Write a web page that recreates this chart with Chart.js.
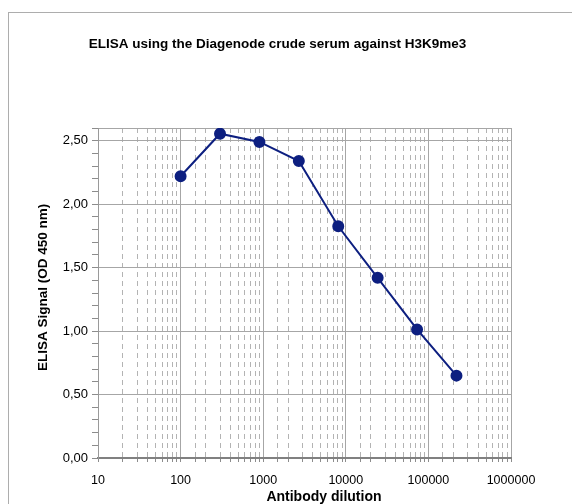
<!DOCTYPE html>
<html>
<head>
<meta charset="utf-8">
<script src="https://cdn.jsdelivr.net/npm/chart.js@4"></script>
<style>
  html, body { margin: 0; padding: 0; background: #fff; }
  #wrap { position: relative; width: 572px; height: 504px; overflow: hidden; }
  #frame { position: absolute; left: 8px; top: 12px; width: 700px; height: 700px; border: 1px solid #adadad; }
  #chart { position: absolute; left: 0; top: 0; }
</style>
</head>
<body>
<div id="wrap">
  <div id="frame"></div>
  <canvas id="chart" width="572" height="504"></canvas>
</div>
<script>
// ELISA dilution curve
const dilutions = [100, 300, 900, 2700, 8100, 24300, 72900, 218700];
const signal = [2.22, 2.555, 2.49, 2.34, 1.826, 1.42, 1.013, 0.649];
const titleText = 'ELISA using the Diagenode crude serum against H3K9me3';
const xTitle = 'Antibody dilution';
const yTitle = 'ELISA Signal (OD 450 nm)';

const FONT = '"Liberation Sans", Arial, sans-serif';
const isDecade = (v) => { const l = Math.log10(v); return Math.abs(l - Math.round(l)) < 1e-9; };
const isHalf = (v) => Math.abs(v * 2 - Math.round(v * 2)) < 1e-6;

new Chart(document.getElementById('chart'), {
  type: 'line',
  data: {
    datasets: [{
      data: dilutions.map((d, i) => ({ x: d, y: signal[i] })),
      borderColor: '#0d1f80',
      backgroundColor: '#0d1f80',
      borderWidth: 2,
      pointRadius: 5,
      pointHoverRadius: 5,
      tension: 0,
      fill: false,
    }],
  },
  options: {
    responsive: false,
    animation: false,
    // left padding shifts the centred title; the y axis box is narrowed to match
    layout: { padding: { left: 44, right: 61, top: 0, bottom: 0 } },
    plugins: {
      legend: { display: false },
      tooltip: { enabled: false },
      title: {
        display: true,
        text: titleText,
        color: '#000',
        font: { family: FONT, size: 13.5, weight: 'bold' },
        padding: { top: 36.5, bottom: 75.3 },
      },
    },
    scales: {
      x: {
        type: 'logarithmic',
        min: 10,
        max: 1000000,
        afterFit: (s) => { s.height = 46; },
        ticks: {
          autoSkip: false,
          maxRotation: 0,
          padding: 11,
          color: '#000',
          font: { family: FONT, size: 12.5 },
          callback: (v) => (isDecade(v) ? String(v) : ''),
        },
        grid: {
          color: (c) => (c.tick && isDecade(c.tick.value) ? '#a6a6a6' : '#b3b3b3'),
          tickColor: '#8c8c8c',
          tickLength: 4,
        },
        border: {
          color: '#808080',
          width: 2,
          dash: (c) => (c.tick && !isDecade(c.tick.value) ? [5, 4] : []),
        },
        title: {
          display: true,
          text: '          ' + xTitle,
          color: '#000',
          font: { family: FONT, size: 14, weight: 'bold' },
          padding: { top: 0, bottom: -1.5 },
        },
      },
      y: {
        min: 0,
        max: 2.6,
        afterFit: (s) => { s.width = 54; },
        ticks: {
          stepSize: 0.1,
          autoSkip: false,
          padding: 4,
          color: '#000',
          font: { family: FONT, size: 13 },
          callback: (v) => (isHalf(v) ? v.toFixed(2).replace('.', ',') : ''),
        },
        grid: {
          color: (c) => (c.tick && (isHalf(c.tick.value) || c.tick.value >= 2.6 - 1e-6) ? '#a6a6a6' : 'rgba(0,0,0,0)'),
          tickColor: '#8c8c8c',
          tickLength: 6,
        },
        border: { color: '#9a9a9a', width: 1 },
        title: {
          display: true,
          text: '   ' + yTitle,
          color: '#000',
          font: { family: FONT, size: 13.5, weight: 'bold' },
          padding: { top: -9.1, bottom: 0 },
        },
      },
    },
  },
});
</script>
</body>
</html>
